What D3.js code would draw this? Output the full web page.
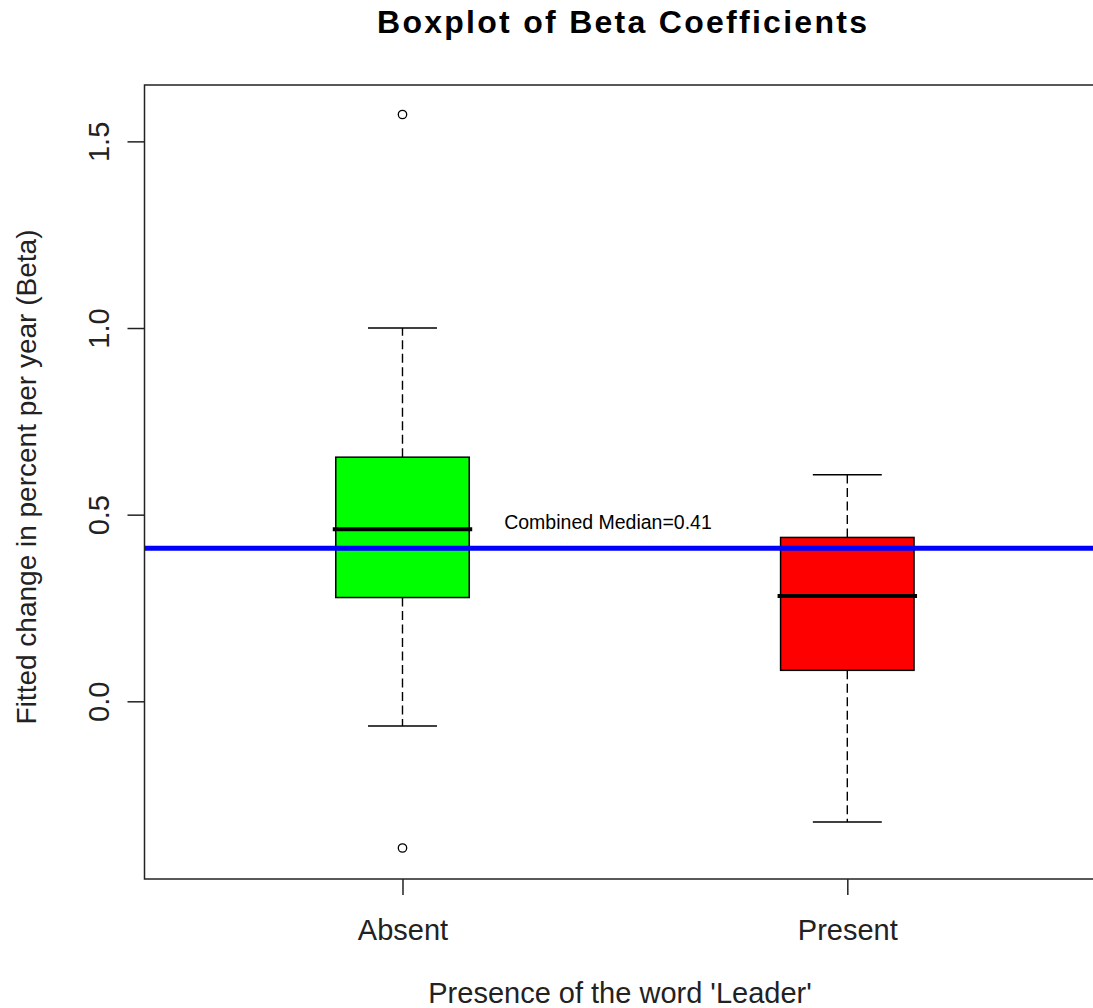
<!DOCTYPE html>
<html><head><meta charset="utf-8">
<script src="https://cdn.jsdelivr.net/npm/d3@7"></script>
<style>body{margin:0;background:#fff;}svg{display:block;font-family:"Liberation Sans",Arial,sans-serif;}</style>
</head><body>
<script>
const categories = ["Absent", "Present"];
const boxColors = ["#00ff00", "#ff0000"];
const whiskerLow = [-0.066, -0.323];
const q1 = [0.278, 0.083];
const medians = [0.461, 0.282];
const q3 = [0.654, 0.439];
const whiskerHigh = [1.0, 0.607];
const outliers = [[1.572, -0.393], []];
const combinedMedian = 0.41;
const yTicks = [0.0, 0.5, 1.0, 1.5];
const title = "Boxplot of Beta Coefficients";
const xTitle = "Presence of the word 'Leader'";
const yTitle = "Fitted change in percent per year (Beta)";

const W = 1093, H = 1008;
const svg = d3.select("body").append("svg").attr("width", W).attr("height", H);
svg.append("rect").attr("width", W).attr("height", H).attr("fill", "#fff");

const x = d3.scaleLinear().domain([0.42, 2.58]).range([144.5, 1105.3]);
const y = d3.scaleLinear().domain([-0.476, 1.651]).range([879, 85]);
const halfBox = 0.15, halfCap = 0.0775;

const data = categories.map((c, i) => ({
  c, i: i + 1, col: boxColors[i], lo: whiskerLow[i], q1: q1[i], med: medians[i],
  q3: q3[i], hi: whiskerHigh[i], out: outliers[i]
}));

const g = svg.append("g");
data.forEach(d => {
  const bg = g.append("g");
  bg.append("line").attr("x1", x(d.i)).attr("x2", x(d.i)).attr("y1", y(d.q3)).attr("y2", y(d.hi))
    .attr("stroke", "#000").attr("stroke-width", 1.4).attr("stroke-dasharray", "9,4.5");
  bg.append("line").attr("x1", x(d.i)).attr("x2", x(d.i)).attr("y1", y(d.q1)).attr("y2", y(d.lo))
    .attr("stroke", "#000").attr("stroke-width", 1.4).attr("stroke-dasharray", "9,4.5");
  [d.lo, d.hi].forEach(v => bg.append("line")
    .attr("x1", x(d.i - halfCap)).attr("x2", x(d.i + halfCap)).attr("y1", y(v)).attr("y2", y(v))
    .attr("stroke", "#000").attr("stroke-width", 1.5));
  bg.append("rect").attr("x", x(d.i - halfBox)).attr("width", x(d.i + halfBox) - x(d.i - halfBox))
    .attr("y", y(d.q3)).attr("height", y(d.q1) - y(d.q3))
    .attr("fill", d.col).attr("stroke", "#000").attr("stroke-width", 1.5);
  bg.append("line").attr("x1", x(d.i - halfBox) - 3).attr("x2", x(d.i + halfBox) + 3)
    .attr("y1", y(d.med)).attr("y2", y(d.med)).attr("stroke", "#000").attr("stroke-width", 4);
  d.out.forEach(v => bg.append("circle").attr("cx", x(d.i)).attr("cy", y(v)).attr("r", 4.2)
    .attr("fill", "none").attr("stroke", "#000").attr("stroke-width", 1.3));
});

svg.append("line").attr("x1", x(0.42)).attr("x2", x(2.58)).attr("y1", y(combinedMedian)).attr("y2", y(combinedMedian))
  .attr("stroke", "#0000ff").attr("stroke-width", 5);
svg.append("text").attr("x", x(1.462)).attr("y", y(0.48)).attr("dy", "0.35em")
  .attr("text-anchor", "middle").attr("font-size", 19.5).attr("fill", "#000")
  .text("Combined Median=" + combinedMedian.toFixed(2));

svg.append("rect").attr("x", x(0.42)).attr("y", y(1.651)).attr("width", x(2.58) - x(0.42))
  .attr("height", y(-0.476) - y(1.651)).attr("fill", "none").attr("stroke", "#222").attr("stroke-width", 1.5);

const yAxis = d3.axisLeft(y).tickValues(yTicks).tickFormat(d3.format(".1f")).tickSize(17).tickPadding(0);
const ya = svg.append("g").attr("transform", `translate(${x(0.42)},0)`).call(yAxis);
ya.select(".domain").remove();
ya.selectAll(".tick line").attr("stroke", "#222").attr("stroke-width", 1.5);
ya.selectAll(".tick text").attr("font-size", 29).attr("fill", "#222")
  .attr("font-family", "Liberation Sans, Arial, sans-serif")
  .attr("x", 0).attr("dy", 0).attr("text-anchor", "middle")
  .attr("transform", "translate(-36,0) rotate(-90)");

const xAxis = d3.axisBottom(x).tickValues([1, 2]).tickFormat((d) => categories[d - 1]).tickSize(16).tickPadding(0);
const xa = svg.append("g").attr("transform", `translate(0,${y(-0.476)})`).call(xAxis);
xa.select(".domain").remove();
xa.selectAll(".tick line").attr("stroke", "#222").attr("stroke-width", 1.5);
xa.selectAll(".tick text").attr("font-size", 29).attr("fill", "#222")
  .attr("font-family", "Liberation Sans, Arial, sans-serif")
  .attr("dy", 0).attr("y", 61);

svg.append("text").attr("x", 622).attr("y", 33).attr("text-anchor", "middle")
  .attr("font-size", 32).attr("font-weight", "bold").attr("fill", "#000")
  .attr("textLength", 490).attr("lengthAdjust", "spacing").text(title);
svg.append("text").attr("x", 620).attr("y", 1003).attr("text-anchor", "middle")
  .attr("font-size", 29).attr("fill", "#222").text(xTitle);
svg.append("text").attr("transform", "translate(36,477) rotate(-90)").attr("text-anchor", "middle")
  .attr("font-size", 28).attr("fill", "#222").text(yTitle);
</script>
</body></html>
